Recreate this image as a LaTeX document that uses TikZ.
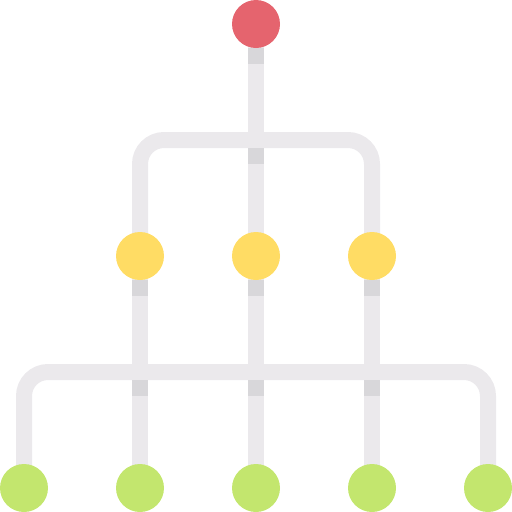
\documentclass[tikz,border=0pt]{standalone}
\begin{document}
\begin{tikzpicture}[x=1pt,y=-1pt,
  pipe/.style={draw=pipegrey,line width=16pt},
  shade/.style={draw=shadegrey,line width=16pt},
  dot/.style={circle,minimum size=48pt,inner sep=0pt,draw=none}]
\definecolor{pipegrey}{HTML}{EBE9EC}
\definecolor{shadegrey}{HTML}{D8D7DA}
\definecolor{redc}{HTML}{E5646E}
\definecolor{yellowc}{HTML}{FFDC64}
\definecolor{greenc}{HTML}{C3E66E}
\useasboundingbox (0,0) rectangle (512,512);
% node positions
\coordinate (r) at (256,24);
\coordinate (y1) at (140,256);
\coordinate (y2) at (256,256);
\coordinate (y3) at (372,256);
\coordinate (g1) at (24,488);
\coordinate (g2) at (140,488);
\coordinate (g3) at (256,488);
\coordinate (g4) at (372,488);
\coordinate (g5) at (488,488);
\coordinate (h1) at (256,140);
\coordinate (h2) at (256,372);
% pipes
\draw[pipe] (r) -- (y2);
\draw[pipe,rounded corners=24pt] (y1) |- (h1) -| (y3);
\draw[pipe] (y1) -- (g2);
\draw[pipe] (y2) -- (g3);
\draw[pipe] (y3) -- (g4);
\draw[pipe,rounded corners=24pt] (g1) |- (h2) -| (g5);
% shadows
\draw[shade] (256,48) -- (256,64);
\draw[shade] (256,148) -- (256,164);
\foreach \x in {140,256,372} {
  \draw[shade] (\x,280) -- (\x,296);
  \draw[shade] (\x,380) -- (\x,396);
}
% circles
\node[dot,fill=redc] (R) at (r) {};
\node[dot,fill=yellowc] (Y1) at (y1) {};
\node[dot,fill=yellowc] (Y2) at (y2) {};
\node[dot,fill=yellowc] (Y3) at (y3) {};
\node[dot,fill=greenc] (G1) at (g1) {};
\node[dot,fill=greenc] (G2) at (g2) {};
\node[dot,fill=greenc] (G3) at (g3) {};
\node[dot,fill=greenc] (G4) at (g4) {};
\node[dot,fill=greenc] (G5) at (g5) {};
\end{tikzpicture}
\end{document}
